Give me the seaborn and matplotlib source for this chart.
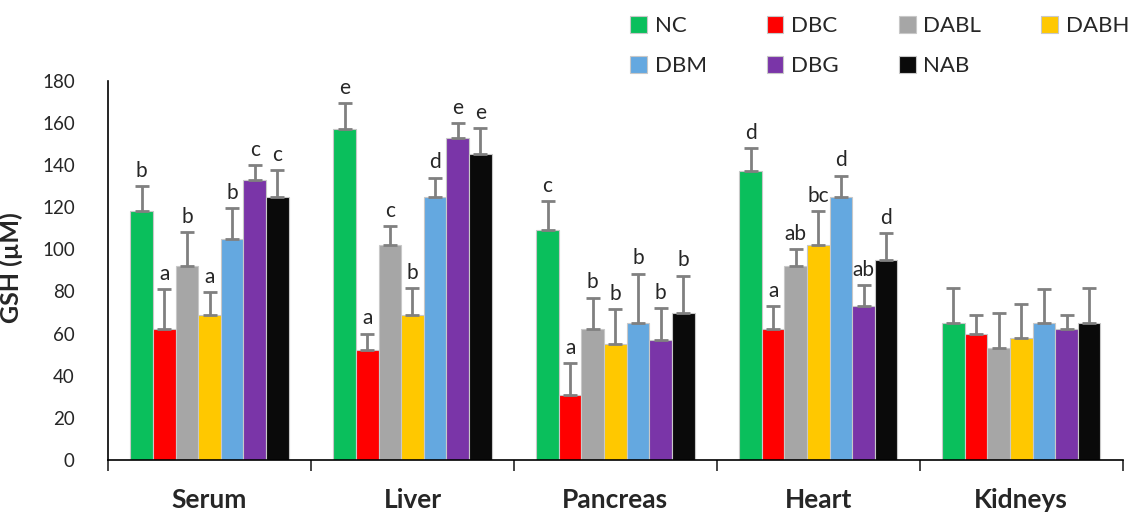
#===========================================
# GSH levels by tissue and group
#===========================================

import numpy as np
import pandas as pd
import matplotlib
matplotlib.use("Agg")
import matplotlib.pyplot as plt
import seaborn as sns

# Data
tissues = ["Serum", "Liver", "Pancreas", "Heart", "Kidneys"]
groups = ["NC", "DBC", "DABL", "DABH", "DBM", "DBG", "NAB"]

means = {
    "Serum":    [118, 62, 92, 69, 105, 133, 125],
    "Liver":    [157, 52, 102, 69, 125, 153, 145],
    "Pancreas": [109, 31, 62, 55, 65, 57, 70],
    "Heart":    [137, 62, 92, 102, 125, 73, 95],
    "Kidneys":  [65, 60, 53, 58, 65, 62, 65],
}
errors = {
    "Serum":    [12, 19, 16, 10.5, 14.5, 7, 12.5],
    "Liver":    [12.5, 8, 9, 12.5, 9, 7, 12.5],
    "Pancreas": [14, 15, 15, 16.5, 23.5, 15, 17.5],
    "Heart":    [11, 11, 8, 16, 10, 10, 12.5],
    "Kidneys":  [16.5, 9, 17, 16, 16, 7, 16.5],
}
letters = {
    "Serum":    ["b", "a", "b", "a", "b", "c", "c"],
    "Liver":    ["e", "a", "c", "b", "d", "e", "e"],
    "Pancreas": ["c", "a", "b", "b", "b", "b", "b"],
    "Heart":    ["d", "a", "ab", "bc", "d", "ab", "d"],
    "Kidneys":  ["", "", "", "", "", "", ""],
}

colors = ["#0ABF5C", "#FF0000", "#A6A6A6", "#FFC800", "#64A8E0", "#7A35A8", "#0A0A0A"]

rows = []
for t in tissues:
    for g, m, e, l in zip(groups, means[t], errors[t], letters[t]):
        rows.append({"tissue": t, "group": g, "mean": m, "err": e, "letter": l})
df = pd.DataFrame(rows)

# Style
sns.set_style("white")
plt.rcParams["font.family"] = ["Lato", "DejaVu Sans"]

fig = plt.figure(figsize=(11.3, 5.14), dpi=100)
ax = fig.add_axes([0.0956, 0.105, 0.898, 0.738])

sns.barplot(data=df, x="tissue", y="mean", hue="group", order=tissues,
            hue_order=groups, palette=colors, saturation=1, width=0.78, gap=0,
            errorbar=None, edgecolor="#C8C8C8", linewidth=0.8,
            legend=True, ax=ax)

# Error bars and letters
bars = ax.patches[:len(df)]
for i, g in enumerate(groups):
    for j, t in enumerate(tissues):
        bar = bars[i * len(tissues) + j]
        row = df[(df.tissue == t) & (df.group == g)].iloc[0]
        x = bar.get_x() + bar.get_width() / 2
        y = bar.get_height()
        ax.errorbar(x, y, yerr=[[0], [row["err"]]], fmt="none",
                    ecolor="#808080", elinewidth=2, capsize=5, capthick=2)
        if row["letter"]:
            ax.text(x, y + row["err"] + 2.5, row["letter"], ha="center",
                    va="bottom", fontsize=15)

# Axes
ax.set_ylim(0, 180)
ax.set_xlim(-0.5, 4.5)
ax.set_yticks(np.arange(0, 181, 20))
ax.tick_params(axis="y", labelsize=13.5, length=0, pad=24)
ax.set_xticks(range(len(tissues)))
ax.set_xticklabels(tissues, fontsize=19, fontweight="bold")
ax.tick_params(axis="x", which="major", length=0, pad=20)
ax.set_xticks(np.arange(-0.5, 4.6, 1), minor=True)
ax.tick_params(axis="x", which="minor", length=8, width=1.2,
               direction="out", bottom=True)
ax.set_xlabel("")
ax.set_ylabel("GSH (µM)", fontsize=18, fontweight="bold")
ax.yaxis.set_label_coords(-0.084, 0.507)
for s in ["top", "right"]:
    ax.spines[s].set_visible(False)
for s in ["left", "bottom"]:
    ax.spines[s].set_color("black")
    ax.spines[s].set_linewidth(1.2)

# Legend (row-major order across 4 columns)
handles, labels = ax.get_legend_handles_labels()
order = [0, 4, 1, 5, 2, 6, 3]
ax.legend([handles[k] for k in order], [labels[k] for k in order],
          ncol=4, frameon=False, fontsize=16, loc="upper left",
          bbox_to_anchor=(0.548, 0.99), bbox_transform=fig.transFigure,
          handlelength=0.75, handleheight=0.75, handletextpad=0.35,
          columnspacing=2.7, labelspacing=0.9, borderpad=0)

plt.savefig("out.png", dpi=100)
